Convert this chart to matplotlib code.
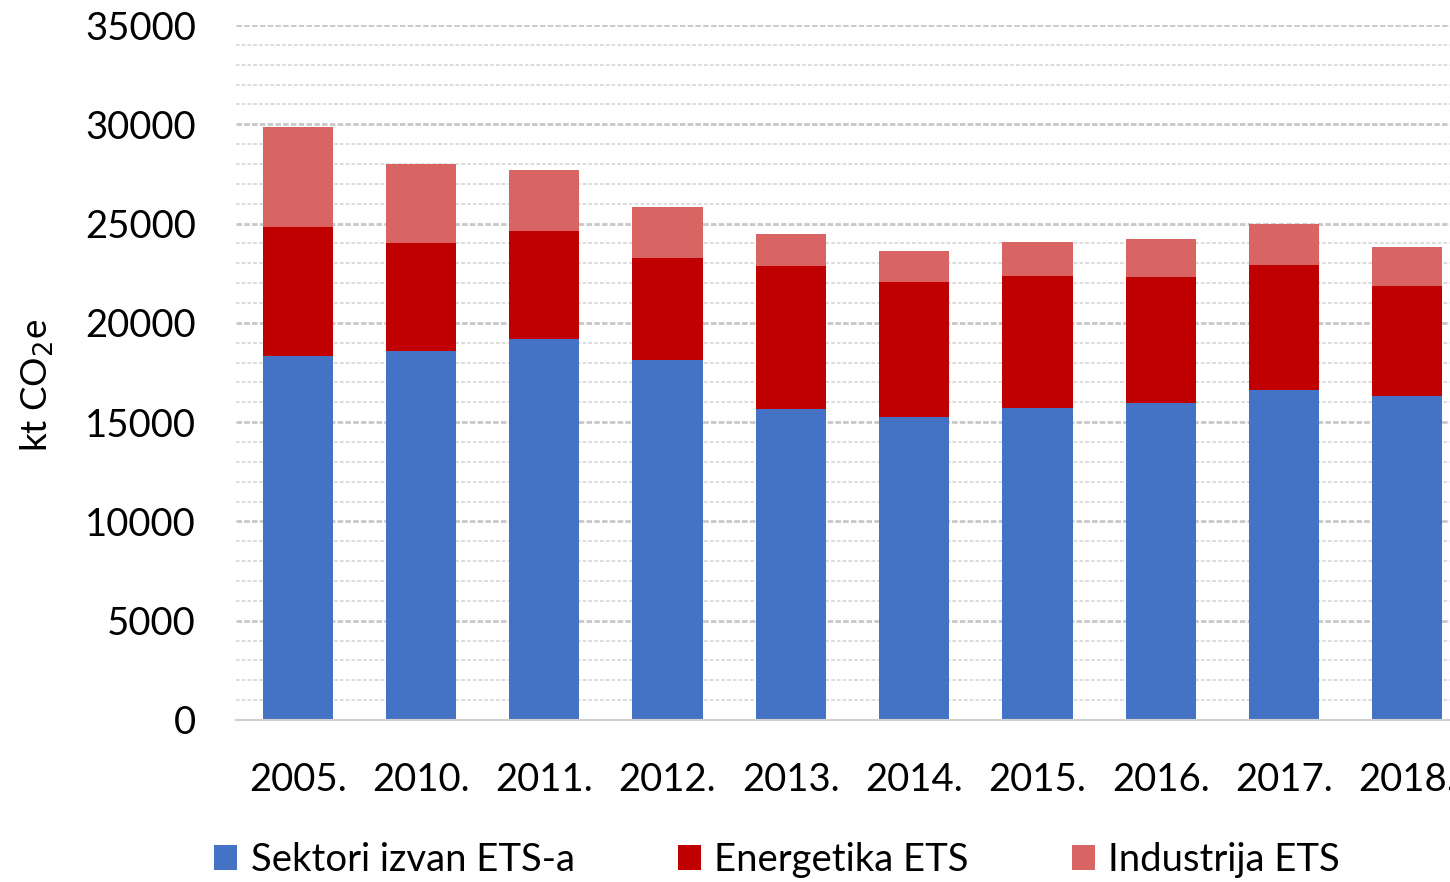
import matplotlib
matplotlib.use("Agg")
import matplotlib.pyplot as plt
from matplotlib.ticker import MultipleLocator
from matplotlib.patches import Patch
import numpy as np

plt.rcParams['font.family'] = ['Lato', 'DejaVu Sans']

years = ["2005.", "2010.", "2011.", "2012.", "2013.", "2014.", "2015.", "2016.", "2017.", "2018."]
sektori = [18330, 18580, 19190, 18130, 15660, 15260, 15710, 15960, 16620, 16320]
energetika = [6500, 5440, 5440, 5140, 7200, 6800, 6650, 6350, 6290, 5540]
industrija = [5040, 3980, 3070, 2570, 1610, 1560, 1710, 1910, 2070, 1960]
labels = ["Sektori izvan ETS-a", "Energetika ETS", "Industrija ETS"]
colors = ["#4472C4", "#C00000", "#D86464"]

fig = plt.figure(figsize=(14.5, 8.82), dpi=100)
ax = fig.add_axes([236/1450, 162/882, 1233/1450, 695/882])

x = np.arange(len(years))
w = 0.57
b1 = np.array(sektori)
b2 = b1 + np.array(energetika)
ax.bar(x, sektori, w, color=colors[0], zorder=3)
ax.bar(x, energetika, w, bottom=b1, color=colors[1], zorder=3)
ax.bar(x, industrija, w, bottom=b2, color=colors[2], zorder=3)

ax.set_xlim(-0.5, len(years) - 0.5)
ax.set_ylim(0, 35000)
ax.yaxis.set_major_locator(MultipleLocator(5000))
ax.yaxis.set_minor_locator(MultipleLocator(1000))
ax.grid(axis='y', which='minor', color='#D9D9D9', linestyle=(0, (2, 1.2)), linewidth=1.3, zorder=0)
ax.grid(axis='y', which='major', color='#C8C8C8', linestyle=(0, (2, 0.8)), linewidth=2.0, zorder=0)
ax.set_xticks(x)
ax.set_xticklabels(years)
ax.tick_params(axis='both', which='both', length=0, labelsize=27.5, colors='black')
ax.tick_params(axis='y', pad=29)
ax.tick_params(axis='x', pad=30)
for s in ['top', 'right', 'left']:
    ax.spines[s].set_visible(False)
ax.spines['bottom'].set_color('#D0D0D0')
ax.spines['bottom'].set_linewidth(1.5)
ax.spines['bottom'].set_zorder(4)

fig.text(37/1450, 1 - 385/882, "kt CO$_2$e", rotation=90, fontsize=26.5, va='center', ha='center')

handles = [Patch(facecolor=c, edgecolor='none') for c in colors]
fig.legend(handles, labels, loc='center', bbox_to_anchor=(777/1450, 1 - 860/882), ncol=3,
           frameon=False, fontsize=27.5, handlelength=0.6, handleheight=0.6,
           handletextpad=0.35, columnspacing=2.7)

fig.savefig("out.png", dpi=100)
